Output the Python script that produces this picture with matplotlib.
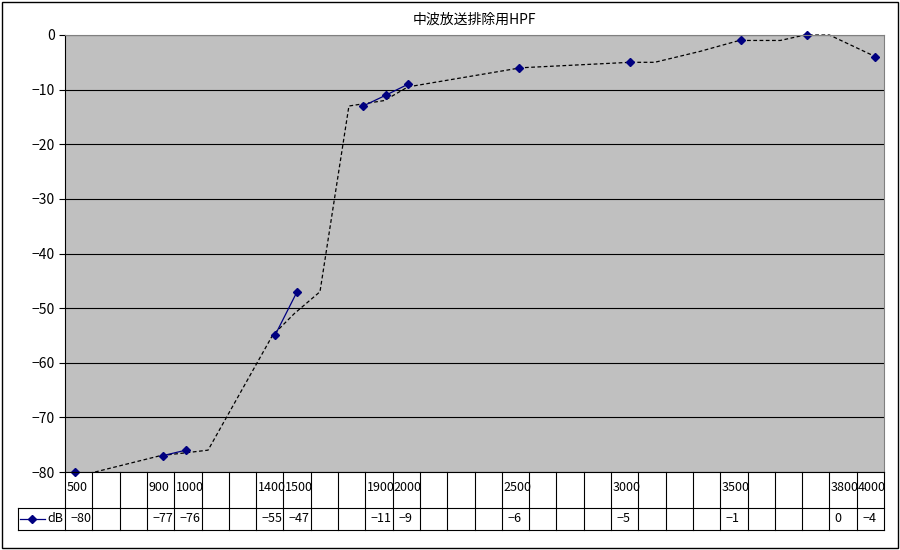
import numpy as np
import matplotlib
matplotlib.use("Agg")
import matplotlib.pyplot as plt
from matplotlib.transforms import blended_transform_factory
from matplotlib.lines import Line2D

plt.rcParams['font.family'] = ['Noto Sans CJK JP', 'DejaVu Sans']

# 30 category slots in the table; only some are labelled
labels = [""] * 30
table_vals = [""] * 30
cells = {0: ("500", -80), 3: ("900", -77), 4: ("1000", -76), 7: ("1400", -55),
         8: ("1500", -47), 11: ("1900", -11), 12: ("2000", -9), 16: ("2500", -6),
         20: ("3000", -5), 24: ("3500", -1), 28: ("3800", 0), 29: ("4000", -4)}
for k, (lab, v) in cells.items():
    labels[k] = lab
    table_vals[k] = str(v).replace("-", "−")

# plotted markers (positions in category units)
mark_x = [-0.13, 3.09, 3.93, 7.19, 8.0, 10.42, 11.26, 12.07, 16.13, 20.2, 24.27, 26.69, 29.18]
mark_y = [-80, -77, -76, -55, -47, -13, -11, -9, -6, -5, -1, 0, -4]
# runs of markers joined by a solid line
runs = [(1, 3), (3, 5), (5, 8)]

# dashed trend line
trend_x = [0.6, 3.0, 3.9, 4.74, 7.1, 7.9, 8.84, 9.9, 11.2, 12.06, 16.2, 20.2, 21.1,
           22.76, 24.2, 25.7, 26.6, 27.5, 29.2]
trend_y = [-80, -77, -76.5, -76, -55, -51, -47, -13, -12, -9.5, -6, -5, -5,
           -3, -1, -1, 0, 0, -4]

W, H = 900, 550
fig = plt.figure(figsize=(9, 5.5), dpi=100)
fig.patch.set_facecolor("white")
fig.add_artist(plt.Rectangle((2 / W, 2 / H), 1 - 4 / W, 1 - 4 / H, transform=fig.transFigure,
                             fill=False, edgecolor="black", lw=1))
ax = fig.add_axes([65 / W, (H - 472) / H, 819 / W, 437 / H])
ax.set_facecolor("#c0c0c0")
ax.set_xlim(-0.5, 29.5)
ax.set_ylim(-80, 0)
ax.set_yticks(range(-80, 1, 10))
ax.set_yticklabels([str(t).replace("-", "−") for t in range(-80, 1, 10)], fontsize=10)
ax.set_xticks([])
ax.grid(axis="y", color="black", lw=0.8)
ax.tick_params(axis="y", length=4)
for s in ["top", "right"]:
    ax.spines[s].set_color("#808080")

ax.plot(trend_x, trend_y, color="black", ls=(0, (3, 2)), lw=0.9, clip_on=False)
for a, b in runs:
    ax.plot(mark_x[a:b], mark_y[a:b], color="#000080", lw=0.9)
ax.plot(mark_x, mark_y, ls="none", color="#000080", marker="D", ms=4, clip_on=False)
ax.set_title("中波放送排除用HPF", fontsize=10, pad=8)

# data table below the axis
tr = blended_transform_factory(ax.transData, fig.transFigure)
y0, y1, y2 = (H - 472) / H, (H - 508) / H, (H - 530) / H
for i in range(31):
    fig.add_artist(Line2D([i - 0.5, i - 0.5], [y0, y2], transform=tr, color="black", lw=0.8))
fig.add_artist(Line2D([18 / W, 884 / W], [y1, y1], transform=fig.transFigure, color="black", lw=0.8))
fig.add_artist(Line2D([18 / W, 884 / W], [y2, y2], transform=fig.transFigure, color="black", lw=0.8))
fig.add_artist(Line2D([18 / W, 18 / W], [y1, y2], transform=fig.transFigure, color="black", lw=0.8))
ym = (y1 + y2) / 2
fig.add_artist(Line2D([20 / W, 45 / W], [ym, ym], transform=fig.transFigure, color="#000080", lw=0.9))
fig.add_artist(Line2D([32 / W], [ym], transform=fig.transFigure, ls="none",
                      color="#000080", marker="D", ms=4))
fig.text(47 / W, ym, "dB", fontsize=9, va="center")
for i in range(30):
    if labels[i]:
        ax.text(i - 0.45, (y0 + y1) / 2 + 0.005, labels[i], transform=tr, fontsize=9, va="center")
        ax.text(i - 0.3, ym, table_vals[i], transform=tr, fontsize=9, va="center")

fig.savefig("out.png", dpi=100)
